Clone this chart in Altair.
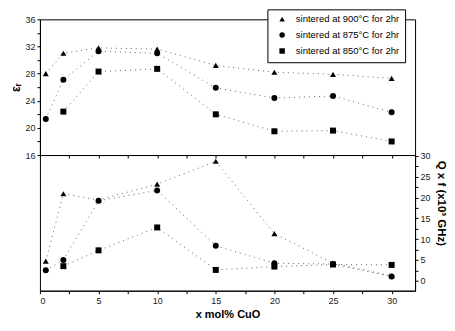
import altair as alt
import pandas as pd

x_vals = [0.5, 2, 5, 10, 15, 20, 25, 30]
series = ["sintered at 900°C for 2hr", "sintered at 875°C for 2hr", "sintered at 850°C for 2hr"]

er_900 = [28.0, 31.0, 31.8, 31.6, 29.2, 28.2, 27.9, 27.3]
er_875 = [21.3, 27.1, 31.3, 31.0, 25.9, 24.4, 24.7, 22.3]
er_850 = [None, 22.4, 28.3, 28.7, 22.0, 19.5, 19.6, 18.0]

qf_900 = [4.7, 20.9, 19.4, 23.2, 28.7, 11.3, 4.2, 1.2]
qf_875 = [2.5, 5.0, 19.2, 21.7, 8.4, 4.2, 4.0, 1.0]
qf_850 = [None, 3.5, 7.3, 12.8, 2.6, 3.4, 3.9, 3.8]

x_ticks = [0, 2.5, 5, 7.5, 10, 12.5, 15, 17.5, 20, 22.5, 25, 27.5, 30]
er_ticks = [16, 18, 20, 22, 24, 26, 28, 30, 32, 34, 36]
qf_ticks = [0, 2.5, 5, 7.5, 10, 12.5, 15, 17.5, 20, 22.5, 25, 27.5, 30]

rows = []
for s, ers, qfs in zip(series, [er_900, er_875, er_850], [qf_900, qf_875, qf_850]):
    for x, e, q in zip(x_vals, ers, qfs):
        rows.append({"x": x, "series": s, "er": e, "qf": q})
df = pd.DataFrame(rows)

FONT = "Liberation Sans"
shape_scale = alt.Scale(domain=series, range=["triangle-up", "circle", "square"])
x_scale = alt.Scale(domain=[0, 32], nice=False, zero=False)

base = alt.Chart(df)
PW = 376
PH = 136

# ---------- top panel: permittivity ----------
top_x = alt.X("x:Q", scale=x_scale,
              axis=alt.Axis(values=x_ticks, labels=False, title=None, tickSize=3,
                            domainColor="black", tickColor="black"))
top_y = alt.Y("er:Q", scale=alt.Scale(domain=[16, 36], nice=False, zero=False),
              axis=alt.Axis(values=er_ticks, labelExpr="datum.value % 4 == 0 ? datum.label : ''",
                            title="εᵣ", titleFontSize=12, titleFontWeight="bold",
                            titlePadding=2, tickSize=3, labelPadding=2,
                            domainColor="black", tickColor="black"))

top_line = base.transform_filter("isValid(datum.er)").mark_line(
    strokeDash=[1, 4], color="#666", strokeWidth=1
).encode(x=top_x, y=top_y, detail="series:N")

top_pts = base.transform_filter("isValid(datum.er)").mark_point(
    filled=True, color="black", size=36, opacity=1
).encode(
    x=top_x, y=top_y,
    shape=alt.Shape("series:N", scale=shape_scale, sort=series,
                    legend=alt.Legend(orient="none", legendX=228, legendY=-10, title=None,
                                      strokeColor="black", fillColor="white",
                                      padding=5, labelFont=FONT, labelFontSize=9.5,
                                      labelColor="black", symbolSize=30,
                                      symbolOffset=5, labelOffset=9,
                                      symbolFillColor="black", symbolStrokeColor="black",
                                      rowPadding=4, labelLimit=200)),
)

top = alt.layer(top_line, top_pts).properties(width=PW, height=PH)

# ---------- bottom panel: Q x f ----------
bot_x = alt.X("x:Q", scale=x_scale,
              axis=alt.Axis(values=x_ticks, labelExpr="datum.value % 5 == 0 ? datum.label : ''",
                            title="x mol% CuO", titleFontSize=11, titleFontWeight="bold",
                            titlePadding=3, tickSize=3, labelPadding=3,
                            domainColor="black", tickColor="black"))
bot_y = alt.Y("qf:Q", scale=alt.Scale(domain=[-2.4, 30.2], nice=False, zero=False),
              axis=alt.Axis(orient="right", values=qf_ticks,
                            labelExpr="datum.value % 5 == 0 ? datum.label : ''",
                            title="Q x f (x10³ GHz)", titleFontSize=11.5, titleFontWeight="bold",
                            titleAngle=90, titleY=48, titlePadding=5, tickSize=3, labelPadding=2,
                            domainColor="black", tickColor="black"))

bot_line = base.transform_filter("isValid(datum.qf)").mark_line(
    strokeDash=[1, 4], color="#666", strokeWidth=1
).encode(x=bot_x, y=bot_y, detail="series:N")

bot_pts = base.transform_filter("isValid(datum.qf)").mark_point(
    filled=True, color="black", size=36, opacity=1
).encode(
    x=bot_x, y=bot_y,
    shape=alt.Shape("series:N", scale=shape_scale, sort=series, legend=None),
)

bottom = alt.layer(bot_line, bot_pts).properties(width=PW, height=PH)

chart = alt.vconcat(top, bottom, spacing=0, bounds="flush").resolve_legend(
    shape="independent"
).properties(
    padding={"left": 1, "top": 0, "right": 0, "bottom": 0},
    background="white",
).configure_view(
    stroke="black", strokeWidth=1
).configure_axis(
    grid=False, labelFont=FONT, labelFontSize=9, labelColor="#222",
    titleFont=FONT, titleColor="black"
)

chart.save("out.html", embed_options={"renderer": "svg", "actions": False})
